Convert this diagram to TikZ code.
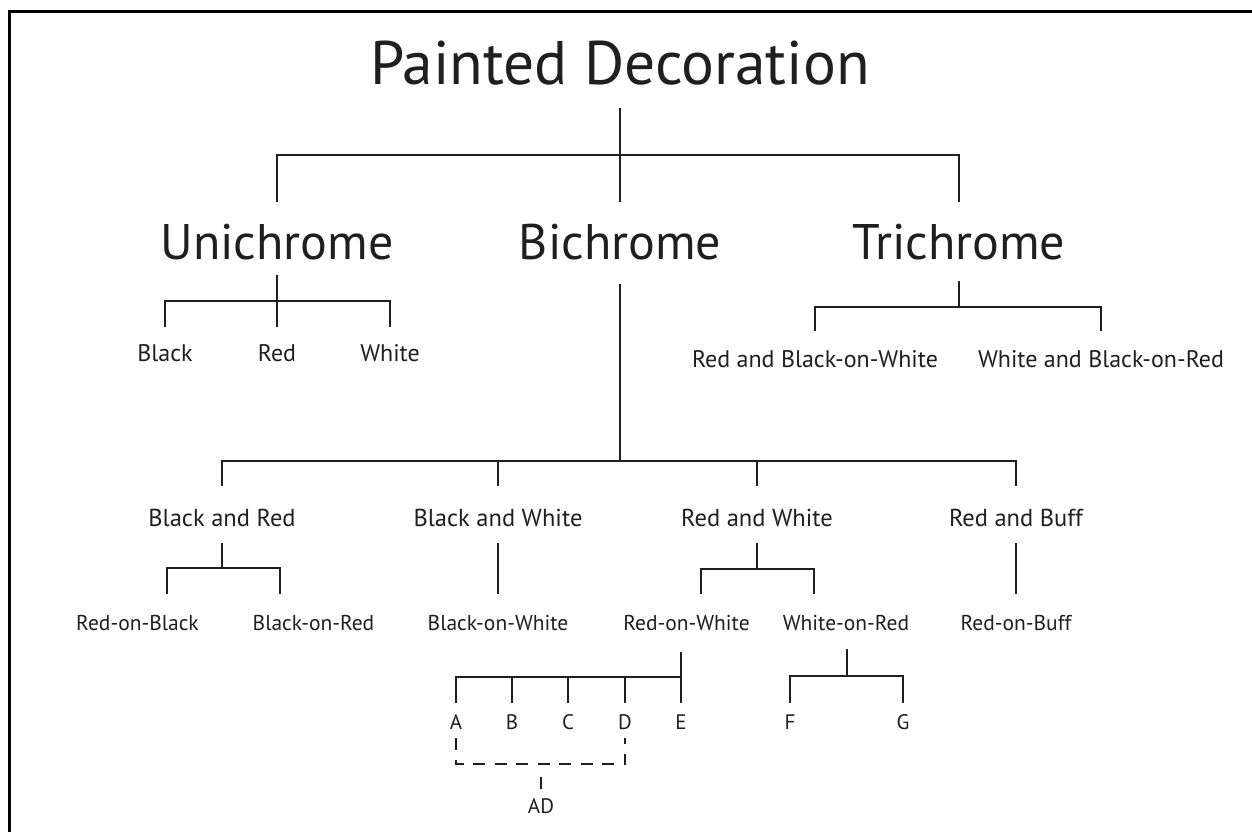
\documentclass[tikz,border=0pt]{standalone}
\usepackage{fontspec}
\setmainfont{PT Sans}
\begin{document}
\begin{tikzpicture}[x=1pt,y=-1pt,
  ink/.style={draw=black!88, line width=2.2pt},
  lbl/.style={anchor=base, inner sep=0pt, text=black!88},
  ttl/.style={lbl, font=\fontsize{61.5}{66}\selectfont, text height=45pt, text depth=24pt},
  lvlone/.style={lbl, font=\fontsize{50}{54}\selectfont, text height=57pt, text depth=22pt},
  lvltwo/.style={lbl, font=\fontsize{24}{28}\selectfont, text height=35pt, text depth=4pt},
  lvlthree/.style={lbl, font=\fontsize{24.5}{29}\selectfont, text height=40pt, text depth=17pt},
  lvlfour/.style={lbl, font=\fontsize{21.5}{25}\selectfont, text height=36pt, text depth=22pt},
  letter/.style={lbl, font=\fontsize{21}{25}\selectfont, text height=26pt, text depth=9pt},
]
\useasboundingbox (0,0) rectangle (1252,831);
\fill[white] (0,0) rectangle (1252,831);

% frame
\draw[line width=3.6pt, black] (9.5,835) -- (9.5,11.5) -- (1256,11.5);

% title and first level
\node[ttl] (title) at (620,84) {Painted Decoration};
\node[lvlone, text depth=16pt] (uni) at (277,259) {Unichrome};
\node[lvlone, text depth=25pt] (bi) at (620,259) {Bichrome};
\node[lvlone] (tri) at (959,259) {Trichrome};

\draw[ink] (title.south) -- ++(0,47) coordinate (j0);
\draw[ink] (uni.north) |- (j0) -| (tri.north);
\draw[ink] (j0) -- (bi.north);

% unichrome
\node[lvltwo, text height=34.5pt] (black) at (165,361.5) {Black};
\node[lvltwo, text height=34.5pt] (red) at (277,361.5) {Red};
\node[lvltwo, text height=34.5pt] (white) at (390,361.5) {White};
\draw[ink] (uni.south) -- ++(0,26) coordinate (j1);
\draw[ink] (black.north) |- (j1) -| (white.north);
\draw[ink] (j1) -- (red.north);

% trichrome
\node[lvltwo, text height=36pt] (rbw) at (815,367) {Red and Black-on-White};
\node[lvltwo, text height=36pt] (wbr) at (1101,367) {White and Black-on-Red};
\draw[ink] (tri.south) -- ++(0,25.5) coordinate (j2);
\draw[ink] (rbw.north) |- (j2) -| (wbr.north);

% bichrome
\node[lvlthree] (bar) at (222,526) {Black and Red};
\node[lvlthree] (baw) at (498,526) {Black and White};
\node[lvlthree] (raw) at (757,526) {Red and White};
\node[lvlthree] (rab) at (1016,526) {Red and Buff};
\draw[ink] (bi.south) -- ++(0,176.5) coordinate (j3);
\draw[ink] (bar.north) |- (j3) -| (rab.north);
\draw[ink] (baw.north) -- (baw.north |- j3);
\draw[ink] (raw.north) -- (raw.north |- j3);

% black and red
\node[lvlfour] (rob) at (137.5,630) {Red-on-Black};
\node[lvlfour] (bor) at (313.5,630) {Black-on-Red};
\draw[ink] (bar.south) -- ++(0,25) coordinate (j4);
\draw[ink] ([xshift=29.5pt]rob.north) |- (j4) -| ([xshift=-33.5pt]bor.north);

% black and white
\node[lvlfour] (bow) at (498,630) {Black-on-White};
\draw[ink] (baw.south) -- (bow.north);

% red and white
\node[lvlfour] (row) at (686.5,630) {Red-on-White};
\node[lvlfour, text depth=19pt] (wor) at (846,630) {White-on-Red};
\draw[ink] (raw.south) -- ++(0,26) coordinate (j5);
\draw[ink] ([xshift=14.5pt]row.north) |- (j5) -| ([xshift=-32pt]wor.north);

% red and buff
\node[lvlfour] (rob2) at (1016,630) {Red-on-Buff};
\draw[ink] (rab.south) -- (rob2.north);

% red-on-white subtypes
\node[letter] (A) at (456,729) {A};
\node[letter] (B) at (512,729) {B};
\node[letter] (C) at (568,729) {C};
\node[letter] (D) at (625,729) {D};
\node[letter] (E) at (681,729) {E};
\draw[ink] ([xshift=-5.5pt]row.south) -- (E.north);
\path (E.north) ++(0,-26) coordinate (j6);
\draw[ink] (A.north) |- (j6);
\foreach \n in {B,C,D} \draw[ink] (\n.north) -- (\n.north |- j6);

% white-on-red subtypes
\node[letter] (F) at (790,729) {F};
\node[letter] (G) at (903,729) {G};
\draw[ink] ([xshift=1pt]wor.south) -- ++(0,27) coordinate (j7);
\draw[ink] (F.north) |- (j7) -| (G.north);

% combined A-D group
\node[letter, text height=24pt] (AD) at (541,813) {AD};
\draw[ink, dash pattern=on 12pt off 9.5pt] (A.south) -- ++(0,26) -| (D.south);
\draw[ink] (AD.north) -- ++(0,-12);
\end{tikzpicture}
\end{document}
